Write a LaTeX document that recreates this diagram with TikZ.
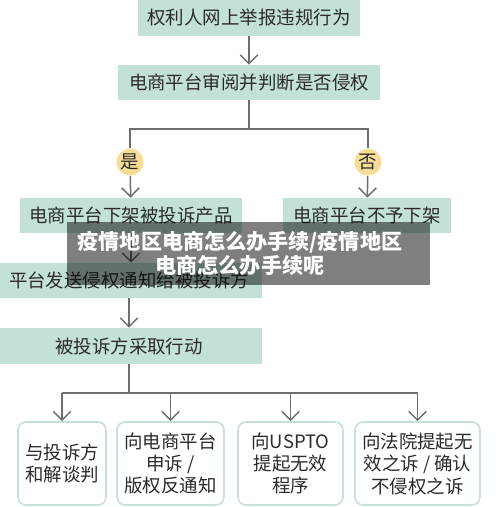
\documentclass[tikz,border=0pt]{standalone}
\usepackage{fontspec}
\setmainfont{Noto Sans CJK SC}
\usetikzlibrary{arrows.meta}
\definecolor{boxgreen}{RGB}{195,225,216}
\definecolor{edgegreen}{RGB}{196,226,217}
\definecolor{dotyellow}{RGB}{248,221,150}
\definecolor{inkgray}{RGB}{43,43,43}
\definecolor{linegray}{RGB}{110,110,110}
\begin{document}
\begin{tikzpicture}[x=0.02cm,y=-0.02cm,
                    stepbox/.style={fill=boxgreen,text=inkgray,inner sep=0pt,
                                    font=\fontsize{10.5}{12.8}\selectfont},
                    endbox/.style={draw=edgegreen,line width=0.9pt,fill=white,rounded corners=0.16cm,
                                   text=inkgray,inner sep=0pt,align=center,minimum height=1.66cm,
                                   font=\fontsize{10.5}{12.8}\selectfont},
                    answer/.style={circle,fill=dotyellow,text=inkgray,inner sep=0pt,minimum size=0.54cm,
                                   font=\fontsize{10.5}{12.8}\selectfont},
                    link/.style={draw=linegray,line width=0.85pt},
                    flow/.style={link,-{Straight Barb[length=5pt,width=10pt,line width=0.85pt]}}]
                    \useasboundingbox (0,0) rectangle (500,507);
                    \node[stepbox,minimum width=4.44cm,minimum height=0.76cm] (report) at (249,17) {权利人网上举报违规行为};
                    \node[stepbox,minimum width=5.24cm,minimum height=0.7cm] (review) at (249,82.5) {电商平台审阅并判断是否侵权};
                    \coordinate (fork) at (249,129);
                    \node[answer] (yes) at (130,162) {是};
                    \node[answer] (no) at (368,162) {否};
                    \node[stepbox,minimum width=4.44cm,minimum height=0.7cm] (takedown) at (131,215.5) {电商平台下架被投诉产品};
                    \node[stepbox,minimum width=3.36cm,minimum height=0.7cm] (keep) at (367,215.5) {电商平台不予下架};
                    \node[stepbox,minimum width=5.32cm,minimum height=0.7cm] (notice) at (129,280.5) {平台发送侵权通知给被投诉方};
                    \node[stepbox,minimum width=5.32cm,minimum height=0.72cm] (act) at (129,346) {被投诉方采取行动};
                    \coordinate (split) at (130,393);
                    \node[endbox,minimum width=1.76cm] (talk) at (62,463.5) {与投诉方\\和解谈判};
                    \node[endbox,minimum width=2.14cm] (appeal) at (170.5,463.5) {向电商平台\\申诉 /\\版权反通知};
                    \node[endbox,minimum width=2.10cm] (uspto) at (290.5,463.5) {向USPTO\\提起无效\\程序};
                    \node[endbox,minimum width=2.50cm] (court) at (417.5,463.5) {向法院提起无\\效之诉 / 确认\\不侵权之诉};
                    \draw[flow] (report) -- (review);
                    \draw[link] (review) -- (fork);
                    \draw[link] (yes) |- (fork) -| (no);
                    \draw[flow] (yes) -- (takedown);
                    \draw[flow] (no) -- (keep);
                    \draw[flow] (takedown.south) -- (takedown.south |- notice.north);
                    \draw[flow] (notice) -- (act);
                    \draw[link] (act.south) -- (act.south |- split);
                    \draw[link] (split -| talk) -- (split -| court);
                    \foreach \b in {talk,appeal,uspto,court}
                        \draw[flow] (split -| \b) -- (\b.north);
                    \fill[black,opacity=0.5] (67,222) rectangle (430,285);
                    \node[text=white,align=center,inner sep=0pt,font=\fontsize{12}{13.2}\selectfont\bfseries] (banner) at (240,253.5)
                        {疫情地区电商怎么办手续/疫情地区\\电商怎么办手续呢};
                \end{tikzpicture}
\end{document}
